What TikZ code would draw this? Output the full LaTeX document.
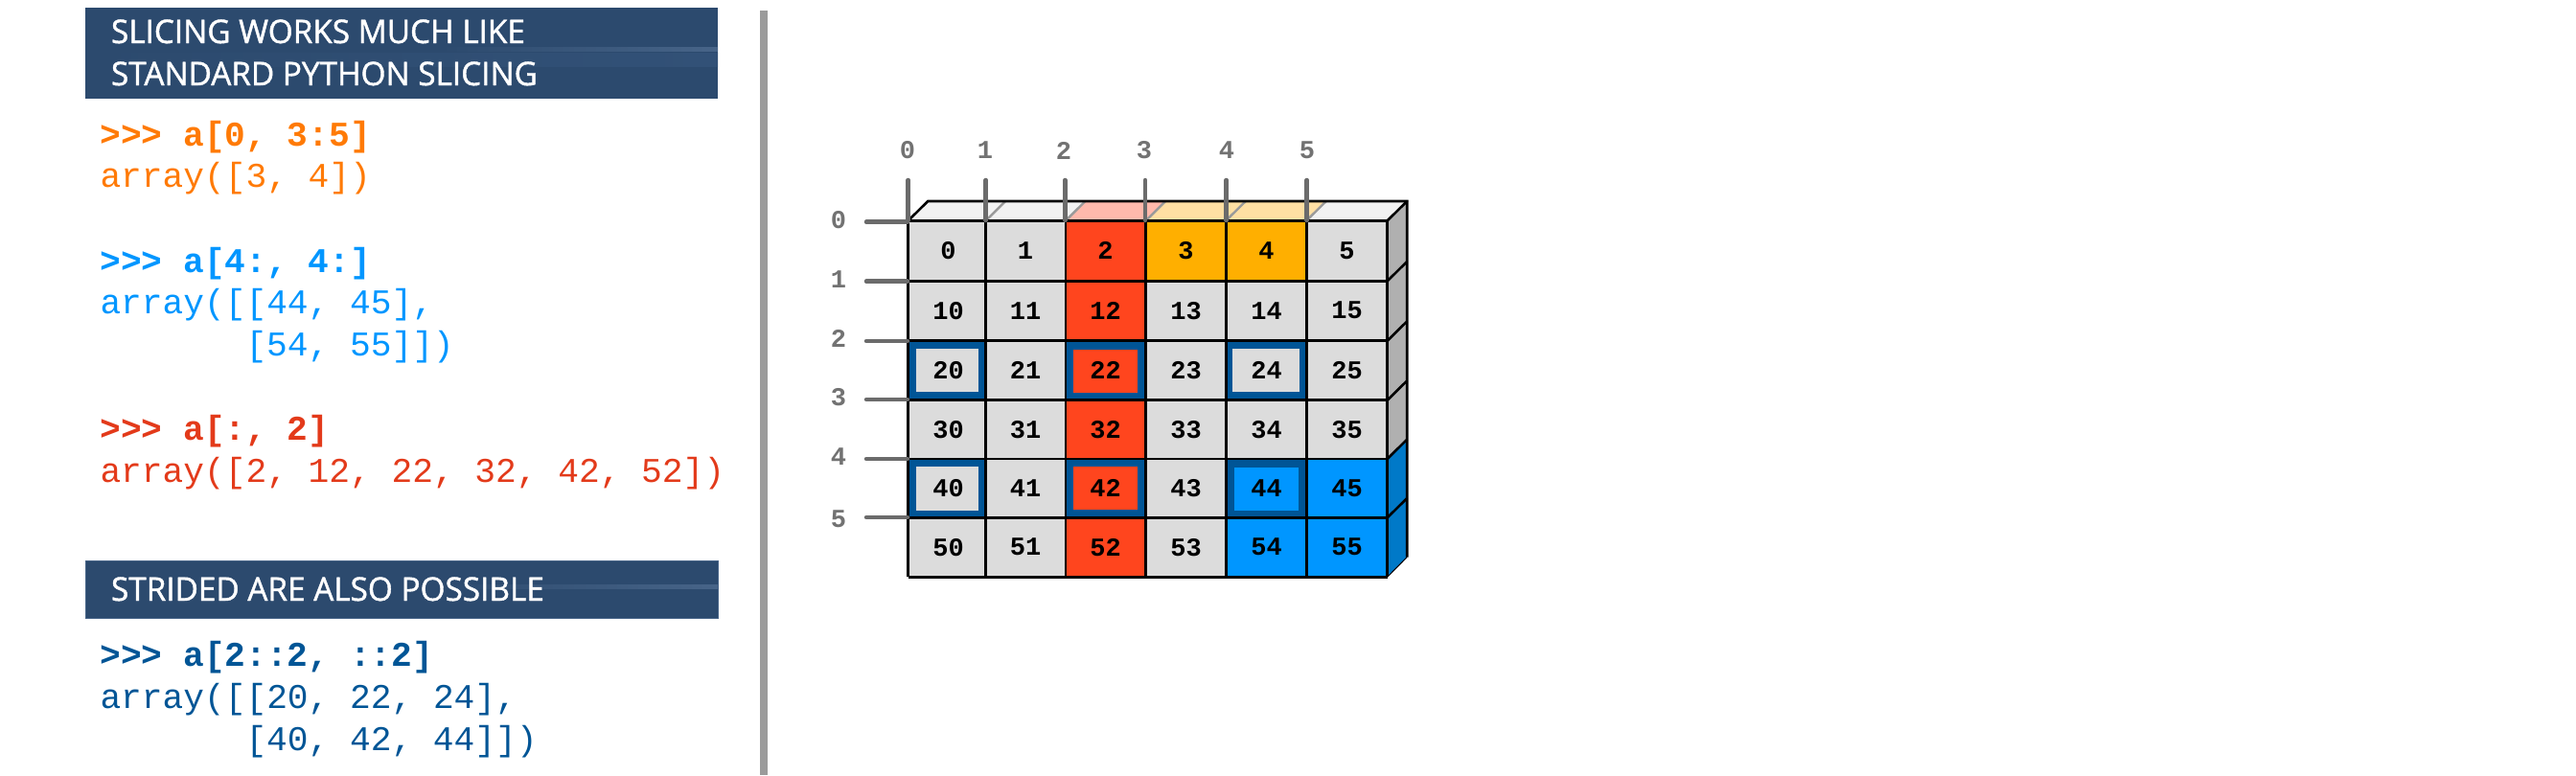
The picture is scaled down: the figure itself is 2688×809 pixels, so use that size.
\documentclass[tikz,border=0pt]{standalone}
\usepackage{fontspec}
\setmonofont{Liberation Mono}
\newfontfamily\hfont[FakeStretch=0.98,FakeBold=1.2]{Open Sans}
\definecolor{hdr}{HTML}{2C4A6E}
\definecolor{hdrlt}{HTML}{476488}
\definecolor{hdrmd}{HTML}{325177}
\definecolor{cgray}{HTML}{DCDCDC}
\definecolor{cred}{HTML}{FF451E}
\definecolor{corange}{HTML}{FFAF00}
\definecolor{cblue}{HTML}{0096FF}
\definecolor{frameblue}{HTML}{005596}
\definecolor{sidegray}{HTML}{B0B0B0}
\definecolor{sideblue}{HTML}{0079C8}
\definecolor{topgray}{HTML}{F2F2F2}
\definecolor{topred}{HTML}{FFB9AC}
\definecolor{toporange}{HTML}{FFDFA3}
\definecolor{tick}{HTML}{6B6B6B}
\definecolor{divgray}{HTML}{9A9A9A}
\definecolor{barg}{HTML}{9B9B9B}
\definecolor{codeorange}{HTML}{FF7A05}
\definecolor{codeblue}{HTML}{0096FF}
\definecolor{codered}{HTML}{E33A1A}
\definecolor{codedark}{HTML}{005596}
\tikzset{
  x=1pt,y=-1pt,
  every node/.style={inner sep=0pt,outer sep=0pt},
  codebold/.style={anchor=base west,font=\fontsize{36.2}{36}\selectfont\ttfamily\bfseries},
  code/.style={anchor=base west,font=\fontsize{36.2}{36}\selectfont\ttfamily},
  hdrtext/.style={anchor=base west,text=white,font=\fontsize{34}{34}\selectfont\hfont},
  celltext/.style={font=\fontsize{27}{27}\selectfont\ttfamily\bfseries,text=black},
  axistext/.style={font=\fontsize{27}{27}\selectfont\ttfamily\bfseries,text=tick!95},
  gridline/.style={draw=black,line width=2.6pt},
  axistick/.style={draw=tick,line width=4.5pt,line cap=round},
}
\begin{document}
\begin{tikzpicture}
\useasboundingbox (0,0) rectangle (2688,809);
\fill[white] (0,0) rectangle (2688,809);
% divider bar
\fill[barg] (793,11) rectangle (801,809);
% headers
\fill[hdr] (89,8) rectangle (749,103);
\shade[left color=hdr,right color=hdrmd,shading angle=90] (89,55) rectangle (749,69);
\shade[left color=hdr,right color=hdrlt] (460,49) rectangle (749,53);
\node[hdrtext] (h1a) at (116,45) {SLICING WORKS MUCH LIKE};
\node[hdrtext] (h1b) at (116,89) {STANDARD PYTHON SLICING};
\fill[hdr] (89,585) rectangle (749,645.5);
\shade[left color=hdr,right color=hdrlt] (460,610) rectangle (749,614);
\draw[hdrlt,line width=0.8pt] (89,585) rectangle (749,645.5);
\node[hdrtext] (h2) at (116,627) {STRIDED ARE ALSO POSSIBLE};
% code
\node[codebold,text=codeorange] (t1) at (104.5,152) {>>> a[0, 3:5]};
\node[code,text=codeorange] (t2) at (104.5,195) {array([3, 4])};
\node[codebold,text=codeblue] (t3) at (104.5,284) {>>> a[4:, 4:]};
\node[code,text=codeblue] (t4) at (104.5,327) {array([[44, 45],};
\node[code,text=codeblue] (t5) at (256.5,371) {[54, 55]])};
\node[codebold,text=codered] (t6) at (104.5,459) {>>> a[:, 2]};
\node[code,text=codered] (t7) at (104.5,503) {array([2, 12, 22, 32, 42, 52])};
\node[codebold,text=codedark] (t8) at (104.5,695) {>>> a[2::2, ::2]};
\node[code,text=codedark] (t9) at (104.5,739) {array([[20, 22, 24],};
\node[code,text=codedark] (t10) at (256.5,783) {[40, 42, 44]])};
% cell fills
\foreach \rw/\ya/\yb in {0/230.3/293.3,1/293.3/355.7,2/355.7/417.7,3/417.7/479,4/479/540.3,5/540.3/602.3}{
  \foreach \cl/\xa/\xb in {0/947.7/1028.7,1/1028.7/1112,2/1112/1195.7,3/1195.7/1279.3,4/1279.3/1363.3,5/1363.3/1447.7}{
    \def\cc{cgray}
    \ifnum\cl=2 \def\cc{cred}\fi
    \ifnum\rw=0 \ifnum\cl>2 \ifnum\cl<5 \def\cc{corange}\fi\fi\fi
    \ifnum\rw>3 \ifnum\cl>3 \def\cc{cblue}\fi\fi
    \fill[\cc] (\xa,\ya) rectangle (\xb,\yb);
  }
}
% top face
\foreach \xa/\xb/\cc in {947.7/1028.7/topgray,1028.7/1112/topgray,1112/1195.7/topred,1195.7/1279.3/toporange,1279.3/1363.3/toporange,1363.3/1447.7/topgray}{
  \fill[\cc] (\xa,230.3) -- (\xa+20.5,210) -- (\xb+20.5,210) -- (\xb,230.3) -- cycle;
}
\foreach \xa in {1028.7,1112,1195.7,1279.3,1363.3}{
  \draw[divgray,line width=2.4pt] (\xa,230.3) -- (\xa+20.5,210);
}
% side face
\foreach \ya/\yb/\cc in {230.3/293.3/sidegray,293.3/355.7/sidegray,355.7/417.7/sidegray,417.7/479/sidegray,479/540.3/sideblue,540.3/602.3/sideblue}{
  \fill[\cc] (1447.7,\ya) -- (1468.2,\ya-20.3) -- (1468.2,\yb-20.3) -- (1447.7,\yb) -- cycle;
}
% stride frames: outer box, inner box, inner colour
\foreach \xa/\ya/\xb/\yb/\ia/\ja/\ib/\jb/\cc in {
  947.7/355.7/1028.7/417.7/956/364/1021/409/cgray,
  1112/355.7/1195.7/417.7/1120/365/1187/410/cred,
  1279.3/355.7/1363.3/417.7/1286/364/1356/409/cgray,
  947.7/479/1028.7/540.3/956/487/1021/533/cgray,
  1112/479/1195.7/540.3/1120/487/1187/532/cred,
  1279.3/479/1363.3/540.3/1288/488/1355/533/cblue}{
  \fill[frameblue] (\xa,\ya) rectangle (\xb,\yb);
  \fill[\cc] (\ia,\ja) rectangle (\ib,\jb);
}
% grid
\foreach \yy in {230.3,293.3,355.7,417.7,479,540.3,602.3}{
  \draw[gridline] (947.7,\yy) -- (1447.7,\yy);
}
\foreach \xx in {947.7,1028.7,1112,1195.7,1279.3,1363.3,1447.7}{
  \draw[gridline] (\xx,230.3) -- (\xx,602.3);
}
\draw[gridline] (947.7,230.3) -- (968.2,210) -- (1468.2,210) -- (1468.2,581.5);
\draw[gridline,line cap=round] (1447.7,230.3) -- (1468.2,210);
\foreach \yy in {293.3,355.7,417.7,479,540.3}{
  \draw[gridline] (1447.7,\yy) -- (1468.2,\yy-20.3);
}
\draw[black,line width=1pt] (1447.7,602.3) -- (1468.2,581.5);
% cell numbers
\foreach \rw/\yc in {0/261.5,1/324.2,2/386.5,3/448.2,4/509.5,5/571.2}{
  \foreach \cl/\xc in {0/989.5,1/1070,2/1153.5,3/1237.5,4/1321.5,5/1405.5}{
    \node[celltext] (cell\rw\cl) at (\xc,\yc) {\ifnum\rw=0 \cl\else\rw\cl\fi};
  }
}
% axes
\foreach \cl/\xt/\xl in {0/947.7/947,1/1028.7/1028,2/1111.3/1110,3/1195/1194,4/1279.7/1280,5/1363.7/1364}{
  \coordinate (ca\cl) at (\xt,188);
  \coordinate (cb\cl) at (\xt,230);
  \draw[axistick] (ca\cl) -- (cb\cl);
  \node[axistext] (clab\cl) at (\xl,157) {\cl};
}
\foreach \rw/\yt/\yl in {0/231.7/230,1/293.7/292,2/356/353,3/417/415,4/479/477,5/540/542}{
  \coordinate (ra\rw) at (904,\yt);
  \coordinate (rb\rw) at (947,\yt);
  \draw[axistick] (ra\rw) -- (rb\rw);
  \node[axistext] (rlab\rw) at (875,\yl) {\rw};
}
\end{tikzpicture}
\end{document}
